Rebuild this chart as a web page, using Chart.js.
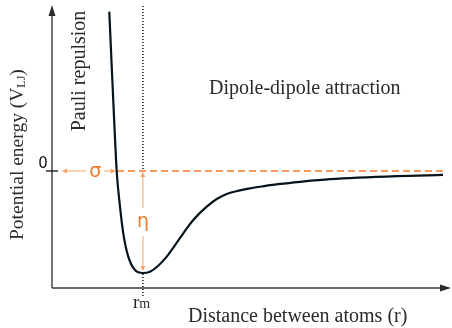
<!DOCTYPE html>
<html>
<head>
<meta charset="utf-8">
<script src="https://cdn.jsdelivr.net/npm/chart.js@4.4.0/dist/chart.umd.min.js"></script>
<style>
  html, body { margin: 0; padding: 0; background: #fff; }
  #wrap { width: 452px; height: 328px; }
</style>
</head>
<body>
<div id="wrap"><canvas id="lj" width="452" height="328"></canvas></div>
<script>
// distance in units of r_m, energy in units of the well depth
const distance = [0.630, 0.657, 0.682, 0.712, 0.748, 0.784, 0.839, 0.913, 1.0, 1.078, 1.166, 1.262,
                  1.444, 1.554, 1.702, 1.812, 1.922, 2.068, 2.178, 2.321, 2.508, 2.728, 3.058, 3.795, 4.301];
const energy   = [1.562, 1.023, 0.533, -0.007, -0.350, -0.611, -0.840, -0.971, -1.0, -0.987, -0.931, -0.840,
                  -0.611, -0.480, -0.350, -0.275, -0.225, -0.190, -0.170, -0.150, -0.127, -0.106, -0.080, -0.050, -0.039];
const zeroLineX = [0.715, 4.3];
const sigma = 0.712;
const rm = 1.0;
const wellDepth = -1.0;
const xTicks = [{ value: 1, label: 'r', sub: 'm' }];
const yTicks = [{ value: 0, label: '0' }];
const xRange = [0, 4.4];
const yRange = [-1.147, 1.627];

const serif = '"Liberation Serif", "DejaVu Serif", serif';
const sans = '"DejaVu Sans", sans-serif';

function arrowHead(ctx, x, y, dx, dy, len, half) {
    // dx, dy: unit direction the arrow points to
    ctx.beginPath();
    ctx.moveTo(x, y);
    ctx.lineTo(x - dx * len - dy * half, y - dy * len + dx * half);
    ctx.lineTo(x - dx * len + dy * half, y - dy * len - dx * half);
    ctx.closePath();
    ctx.fill();
}

function subText(ctx, x, y, main, sub, mainFont, subFont, drop) {
    ctx.font = mainFont;
    ctx.fillText(main, x, y);
    const w = ctx.measureText(main).width;
    ctx.font = subFont;
    ctx.fillText(sub, x + w, y + drop);
    return w + ctx.measureText(sub).width;
}

const overlay = {
    id: 'overlay',
    afterDraw(chart) {
        const ctx = chart.ctx;
        const xs = chart.scales.x;
        const ys = chart.scales.y;
        const area = chart.chartArea;
        const x0 = xs.getPixelForValue(0);
        const y0 = ys.getPixelForValue(0);
        const yb = area.bottom;
        ctx.save();

        // axes with arrows
        ctx.strokeStyle = '#3b3b3b';
        ctx.fillStyle = '#2b2b2b';
        ctx.lineWidth = 1.4;
        ctx.beginPath();
        ctx.moveTo(x0, yb);
        ctx.lineTo(x0, area.top + 8);
        ctx.moveTo(x0, yb);
        ctx.lineTo(area.right - 8, yb);
        ctx.stroke();
        arrowHead(ctx, x0, area.top, 0, -1, 11, 3.5);
        arrowHead(ctx, area.right - 1, yb, 1, 0, 11, 3.5);

        // ticks
        ctx.strokeStyle = '#111';
        ctx.lineWidth = 1.3;
        yTicks.forEach(t => {
            const py = ys.getPixelForValue(t.value);
            ctx.beginPath();
            ctx.moveTo(x0 - 6, py);
            ctx.lineTo(x0 + 6, py);
            ctx.stroke();
            ctx.fillStyle = '#111';
            ctx.font = '15px ' + sans;
            ctx.textAlign = 'center';
            ctx.fillText(t.label, x0 - 9, py - 3);
        });

        // dotted guide at r_m
        const px = xs.getPixelForValue(rm);
        const pMin = ys.getPixelForValue(wellDepth);
        ctx.strokeStyle = '#111';
        ctx.lineWidth = 1.5;
        ctx.setLineDash([1, 2]);
        ctx.beginPath();
        ctx.moveTo(px, area.top + 1);
        ctx.lineTo(px, y0 - 1);
        ctx.moveTo(px, pMin + 1);
        ctx.lineTo(px, yb + 9);
        ctx.stroke();
        ctx.setLineDash([]);

        xTicks.forEach(t => {
            const tx = xs.getPixelForValue(t.value);
            ctx.fillStyle = '#2a2a2a';
            ctx.textAlign = 'left';
            subText(ctx, tx - 10, yb + 20, t.label, t.sub, '19px ' + serif, '14px ' + serif, 0);
        });

        // sigma arrow
        const light = '#f8a466';
        const orange = '#f27a2c';
        const ps = xs.getPixelForValue(sigma);
        const pl = x0 + 10;
        ctx.strokeStyle = light;
        ctx.fillStyle = light;
        ctx.lineWidth = 1;
        ctx.beginPath();
        ctx.moveTo(pl + 3, y0);
        ctx.lineTo(86, y0);
        ctx.moveTo(104, y0);
        ctx.lineTo(ps - 3, y0);
        ctx.stroke();
        arrowHead(ctx, pl, y0, -1, 0, 5, 2.5);
        arrowHead(ctx, ps - 1, y0, 1, 0, 5, 2.5);

        // eta arrow
        ctx.beginPath();
        ctx.moveTo(px, y0 + 3);
        ctx.lineTo(px, 208);
        ctx.moveTo(px, 236);
        ctx.lineTo(px, pMin - 3);
        ctx.stroke();
        arrowHead(ctx, px, y0 + 1, 0, -1, 5, 2.5);
        arrowHead(ctx, px, pMin - 2, 0, 1, 5, 2.5);

        ctx.fillStyle = orange;
        ctx.font = '19px ' + sans;
        ctx.textAlign = 'center';
        ctx.fillText('σ', (pl + ps) / 2 + 6, y0 + 6);
        ctx.fillText('η', px, 227);

        // texts
        ctx.fillStyle = '#2a2a2a';
        ctx.font = '20px ' + serif;
        ctx.textAlign = 'left';
        ctx.fillText('Dipole-dipole attraction', 209, 94);
        ctx.fillText('Distance between atoms (r)', 188, 322);

        ctx.save();
        ctx.translate(85, 71);
        ctx.rotate(-Math.PI / 2);
        ctx.textAlign = 'center';
        ctx.fillText('Pauli repulsion', 0, 0);
        ctx.restore();

        ctx.save();
        ctx.translate(23, 240);
        ctx.rotate(-Math.PI / 2);
        ctx.textAlign = 'left';
        let w = subText(ctx, 0, 0, 'Potential energy (V', 'LJ', '19.5px ' + serif, '12px ' + serif, 2);
        ctx.font = '19.5px ' + serif;
        ctx.fillText(')', w, 0);
        ctx.restore();

        ctx.restore();
    }
};

new Chart(document.getElementById('lj'), {
    type: 'scatter',
    data: {
        datasets: [
            {
                label: 'Potential',
                data: distance.map((r, i) => ({ x: r, y: energy[i] })),
                showLine: true,
                borderColor: '#06141e',
                borderWidth: 2.2,
                pointRadius: 0,
                cubicInterpolationMode: 'monotone'
            },
            {
                label: 'Zero',
                data: zeroLineX.map(r => ({ x: r, y: 0 })),
                showLine: true,
                borderColor: '#f47a2a',
                borderWidth: 1.3,
                borderDash: [7, 4],
                pointRadius: 0
            }
        ]
    },
    options: {
        responsive: false,
        animation: false,
        layout: { padding: { left: 52, right: 0, top: 5, bottom: 40 } },
        scales: {
            x: { type: 'linear', min: xRange[0], max: xRange[1], display: false },
            y: { type: 'linear', min: yRange[0], max: yRange[1], display: false }
        },
        plugins: {
            legend: { display: false },
            tooltip: { enabled: false }
        }
    },
    plugins: [overlay]
});
</script>
</body>
</html>
